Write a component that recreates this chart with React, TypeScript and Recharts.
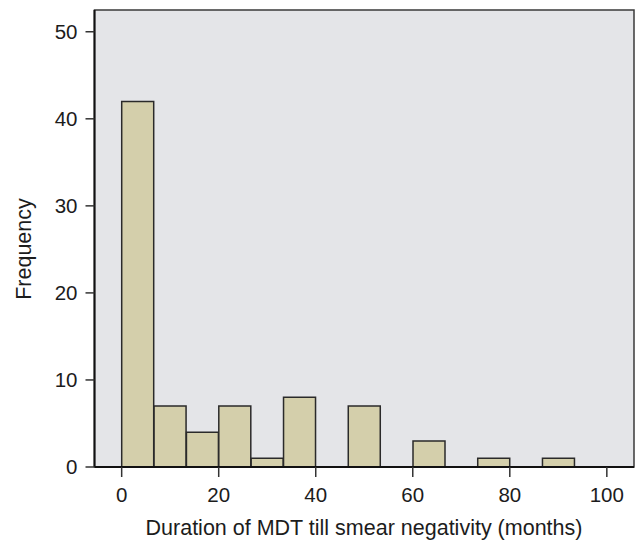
import React from 'react';
import { ComposedChart, Bar, XAxis, YAxis, CartesianGrid, ReferenceArea } from 'recharts';

const binLabels = ['0', '6.7', '13.3', '20', '26.7', '33.3', '40', '46.7', '53.3', '60', '66.7', '73.3', '80', '86.7', '93.3'];
const frequencies = [42, 7, 4, 7, 1, 8, 0, 7, 0, 3, 0, 1, 0, 1, 0];
const xTicks = [0, 20, 40, 60, 80, 100];
const yTicks = [0, 10, 20, 30, 40, 50];

const data = binLabels.map((b, i) => ({ bin: b, count: frequencies[i] }));

const FONT = '"Liberation Sans", Arial, sans-serif';
const TXT = '#1c1c1c';

export default function App() {
  return (
    <div style={{ position: 'absolute', left: 0, top: 0 }}>
      <ComposedChart
        width={635}
        height={540}
        data={data}
        margin={{ top: 10, right: 1, left: 0, bottom: 0 }}
        barCategoryGap={0}
        barGap={0}
        style={{ fontFamily: FONT }}
      >
        <CartesianGrid fill="#e4e5e8" stroke="none" horizontal={false} vertical={false} />
        <XAxis
          xAxisId="num"
          type="number"
          dataKey="x"
          domain={[-5.6, 105.6]}
          ticks={xTicks}
          allowDataOverflow
          height={73}
          tickSize={10}
          tickMargin={10}
          axisLine={{ stroke: '#111', strokeWidth: 2 }}
          tickLine={{ stroke: '#333', strokeWidth: 1.5 }}
          tick={{ fill: TXT, fontSize: 20.5, fontFamily: FONT }}
          label={(props: any) => (
            <text x={364} y={535} textAnchor="middle" fill={TXT} fontSize={21.5} fontFamily={FONT}>
              Duration of MDT till smear negativity (months)
            </text>
          )}
        />
        <XAxis
          xAxisId="cat"
          dataKey="bin"
          type="category"
          hide
          height={0}
          padding={{ left: 27.2, right: 26.8 }}
        />
        <YAxis
          type="number"
          domain={[0, 52.5]}
          ticks={yTicks}
          allowDataOverflow
          width={94.5}
          tickSize={9}
          tickMargin={8}
          axisLine={{ stroke: '#111', strokeWidth: 2 }}
          tickLine={{ stroke: '#333', strokeWidth: 1.5 }}
          tick={{ fill: TXT, fontSize: 20.5, fontFamily: FONT }}
          label={(props: any) => (
            <text
              x={31}
              y={249}
              textAnchor="middle"
              fill={TXT}
              fontSize={21.5}
              fontFamily={FONT}
              transform="rotate(-90 31 249)"
            >
              Frequency
            </text>
          )}
        />
        <ReferenceArea
          xAxisId="num"
          x1={-5.6}
          x2={105.6}
          y1={0}
          y2={52.5}
          fill="none"
          stroke="#3a3a3a"
          strokeWidth={1.5}
          ifOverflow="visible"
        />
        <Bar
          xAxisId="cat"
          dataKey="count"
          fill="#d4cfab"
          stroke="#2a2a2a"
          strokeWidth={1.5}
          isAnimationActive={false}
        />
      </ComposedChart>
    </div>
  );
}
